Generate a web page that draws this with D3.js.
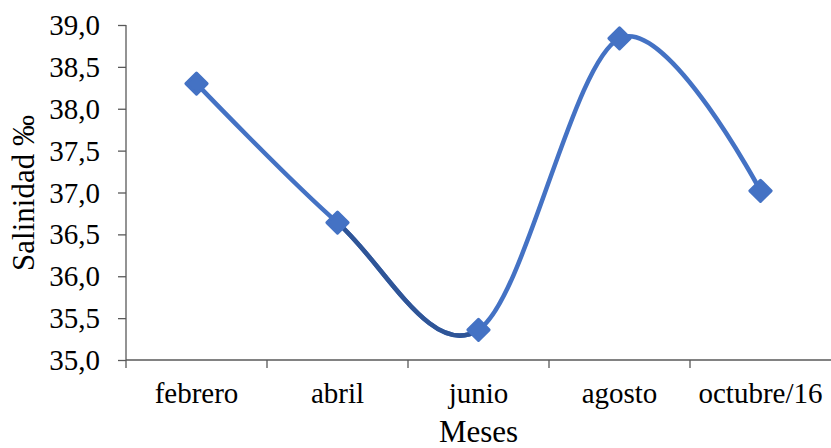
<!DOCTYPE html>
<html>
<head>
<meta charset="utf-8">
<script src="https://cdn.jsdelivr.net/npm/d3@7"></script>
<style>
  html, body { margin: 0; padding: 0; background: #fff; }
  text { font-family: "Liberation Serif", "Times New Roman", serif; fill: #000; }
</style>
</head>
<body>
<svg id="chart" width="831" height="448"></svg>
<script>
// Monthly salinity (‰)
const months = ["febrero", "abril", "junio", "agosto", "octubre/16"];
const salinity = [38.30, 36.64, 35.36, 38.84, 37.02];
const yTicks = [35.0, 35.5, 36.0, 36.5, 37.0, 37.5, 38.0, 38.5, 39.0];
const yTitle = "Salinidad ‰";
const xTitle = "Meses";

const W = 831, H = 448;
const plot = { left: 126, right: 831, top: 25, bottom: 360 };
const lineColor = "#4472C4";
const darkColor = "#2F5597";
const axisColor = "#595959";

const svg = d3.select("#chart");

const x = d3.scaleBand().domain(months).range([plot.left, plot.right]).paddingInner(0).paddingOuter(0);
const y = d3.scaleLinear().domain([35, 39]).range([plot.bottom, plot.top]);
const cx = m => x(m) + x.bandwidth() / 2;

const fmt = v => d3.format(".1f")(v).replace(".", ",");

function label(g, tx, ty, str, opts) {
  return g.append("text")
    .attr("transform", `translate(${tx},${ty})` + (opts.rotate ? ` rotate(${opts.rotate})` : ""))
    .attr("text-anchor", opts.anchor || "middle")
    .attr("font-family", "Liberation Serif")
    .style("font-size", opts.size + "px")
    .text(str);
}

// Y axis
const yAxis = svg.append("g").attr("transform", `translate(${plot.left},0)`)
  .call(d3.axisLeft(y).tickValues(yTicks).tickSize(8).tickFormat(""));
yAxis.select(".domain").remove();
yAxis.selectAll(".tick line").attr("stroke", axisColor).attr("stroke-width", 1.3);
svg.append("line")
  .attr("x1", plot.left).attr("x2", plot.left)
  .attr("y1", plot.top).attr("y2", plot.bottom + 8)
  .attr("stroke", axisColor).attr("stroke-width", 1.3);

const yl = svg.append("g");
yTicks.forEach(v => label(yl, 100, y(v) + 10, fmt(v), { anchor: "end", size: 29 }));

// X axis
svg.append("line")
  .attr("x1", plot.left).attr("x2", plot.right)
  .attr("y1", plot.bottom).attr("y2", plot.bottom)
  .attr("stroke", axisColor).attr("stroke-width", 1.3);
const xBounds = months.map(m => x(m)).concat([plot.right]);
svg.append("g").selectAll("line").data(xBounds.slice(1, -1)).join("line")
  .attr("x1", d => d).attr("x2", d => d)
  .attr("y1", plot.bottom).attr("y2", plot.bottom + 8)
  .attr("stroke", axisColor).attr("stroke-width", 1.3);

const xl = svg.append("g");
months.forEach(m => label(xl, cx(m), 403, m, { size: 29 }));

// Axis titles
label(svg, 34, 193, yTitle, { size: 31, rotate: -90 });
label(svg, (plot.left + plot.right) / 2, 442, xTitle, { size: 31 });

// Smoothed line
const pts = months.map((m, i) => [cx(m), y(salinity[i])]);
const lineGen = d3.line().curve(d3.curveCardinal.tension(0));

svg.append("defs").append("clipPath").attr("id", "seg")
  .append("rect")
  .attr("x", cx(months[1])).attr("y", 0)
  .attr("width", cx(months[2]) - cx(months[1])).attr("height", H);

svg.append("path").attr("d", lineGen(pts))
  .attr("fill", "none").attr("stroke", lineColor)
  .attr("stroke-width", 4.5).attr("stroke-linecap", "round").attr("stroke-linejoin", "round");

svg.append("path").attr("d", lineGen(pts))
  .attr("clip-path", "url(#seg)")
  .attr("fill", "none").attr("stroke", darkColor)
  .attr("stroke-width", 4.5);

// Diamond markers
const s = 7.5;
svg.append("g").selectAll("path").data(pts).join("path")
  .attr("transform", d => `translate(${d[0]},${d[1]})`)
  .attr("d", `M0,${-s * 1.414}L${s * 1.414},0L0,${s * 1.414}L${-s * 1.414},0Z`)
  .attr("fill", lineColor).attr("stroke", lineColor)
  .attr("stroke-width", 3).attr("stroke-linejoin", "round");
</script>
</body>
</html>
